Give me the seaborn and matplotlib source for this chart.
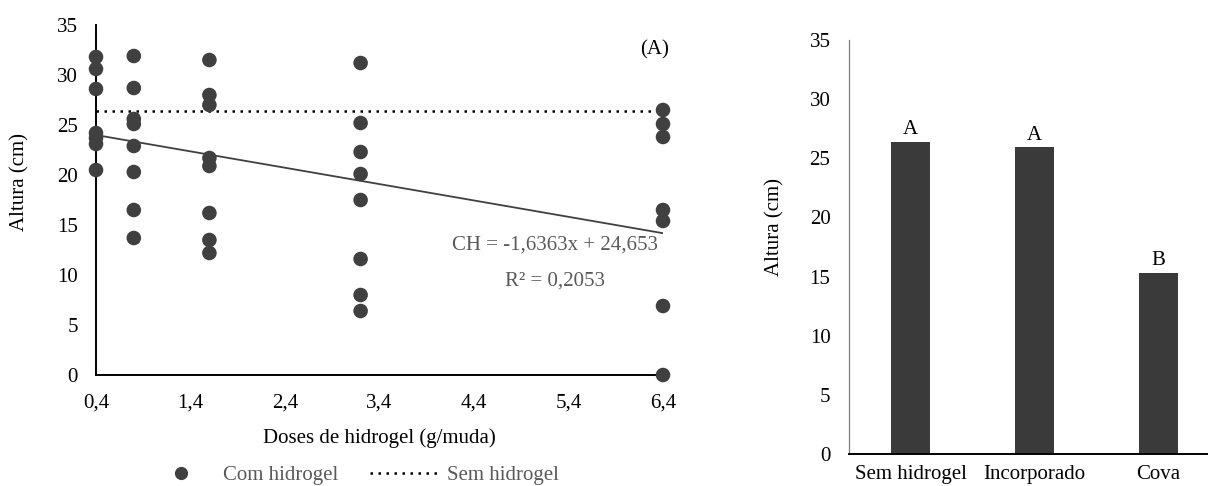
import numpy as np
import pandas as pd
import matplotlib
matplotlib.use("Agg")
import matplotlib.pyplot as plt
import seaborn as sns
from matplotlib.lines import Line2D

# ---------------- data ----------------
dose_levels = [0.4, 0.8, 1.6, 3.2, 6.4]
altura_04 = [31.8, 30.6, 28.6, 24.2, 23.7, 23.1, 20.5]
altura_08 = [31.9, 28.7, 25.6, 25.1, 22.9, 20.3, 16.5, 13.7]
altura_16 = [31.5, 28.0, 27.0, 21.7, 20.9, 16.2, 13.5, 12.2]
altura_32 = [31.2, 25.2, 22.3, 20.1, 17.5, 11.6, 8.0, 6.4]
altura_64 = [26.5, 25.1, 23.8, 16.5, 15.4, 6.9, 0.0]
sem_hidrogel_media = 26.4
reg_slope = -1.6363
reg_intercept = 24.653
reg_r2 = "0,2053"

x_ticks = [0.4, 1.4, 2.4, 3.4, 4.4, 5.4, 6.4]
x_ticklabels = ["0,4", "1,4", "2,4", "3,4", "4,4", "5,4", "6,4"]
y_ticks = [0, 5, 10, 15, 20, 25, 30, 35]

bar_categories = ["Sem hidrogel", "Incorporado", "Cova"]
bar_values = [26.4, 25.9, 15.3]
bar_letters = ["A", "A", "B"]

# ---------------- style ----------------
sns.set_theme(style="white")
plt.rcParams["font.family"] = ["Liberation Serif", "DejaVu Serif"]
FS = 15
GRAY_TXT = "#595959"
PT_COLOR = "#404040"
BAR_COLOR = "#3a3a3a"

W, H = 1208, 486
fig = plt.figure(figsize=(W / 100, H / 100), dpi=100)

# ---------------- left: scatter ----------------
ax1 = fig.add_axes([96 / W, 111 / H, 567 / W, 350 / H])
all_groups = [altura_04, altura_08, altura_16, altura_32, altura_64]
doses = []
alturas = []
for d, vals in zip(dose_levels, all_groups):
    doses += [d] * len(vals)
    alturas += vals
df_sc = pd.DataFrame({"dose": doses, "altura": alturas})

sns.scatterplot(data=df_sc, x="dose", y="altura", ax=ax1, s=110,
                color=PT_COLOR, edgecolor="none", linewidth=0,
                legend=False, zorder=3)
for c in ax1.collections:
    c.set_clip_on(False)

xr = np.array([dose_levels[0], dose_levels[-1]])
sns.lineplot(x=xr, y=reg_intercept + reg_slope * xr, ax=ax1,
             color=PT_COLOR, lw=1.3, zorder=4)
sns.lineplot(x=xr, y=[sem_hidrogel_media, sem_hidrogel_media], ax=ax1,
             color="black", lw=1.8, zorder=2)
ax1.lines[-1].set_linestyle((0, (1, 2.2)))

ax1.set_xlim(0.4, 6.4)
ax1.set_ylim(0, 35)
ax1.set_xticks(x_ticks)
ax1.set_xticklabels(x_ticklabels)
ax1.set_yticks(y_ticks)
ax1.tick_params(axis="both", length=0, labelsize=FS, colors="black")
ax1.tick_params(axis="x", pad=13)
ax1.tick_params(axis="y", pad=13)
for s in ["top", "right"]:
    ax1.spines[s].set_visible(False)
for s in ["left", "bottom"]:
    ax1.spines[s].set_color("black")
    ax1.spines[s].set_linewidth(1.4)
ax1.set_xlabel("Doses de hidrogel (g/muda)", fontsize=FS, color="black")
ax1.xaxis.set_label_coords(0.5, -(428 - 375) / 350)
ax1.xaxis.label.set_va("top")
ax1.set_ylabel("Altura (cm)", fontsize=FS, color="black")
ax1.yaxis.set_label_coords((20 - 96) / 567, (375 - 182) / 350)
ax1.yaxis.label.set_va("center")

ax1.text((555 - 96) / 567, (375 - 245) / 350,
         f"CH = {str(reg_slope).replace('.', ',')}x + {str(reg_intercept).replace('.', ',')}",
         transform=ax1.transAxes, ha="center", va="center", fontsize=FS, color=GRAY_TXT)
ax1.text((555 - 96) / 567, (375 - 281) / 350, f"R² = {reg_r2}",
         transform=ax1.transAxes, ha="center", va="center", fontsize=FS, color=GRAY_TXT)
ax1.text((655 - 96) / 567, (375 - 50) / 350, "(A)", transform=ax1.transAxes,
         ha="center", va="center", fontsize=FS, color="black")

handles = [
    Line2D([], [], marker="o", ls="none", color=PT_COLOR, markersize=9.5,
           markeredgewidth=0),
    Line2D([], [], ls=(0, (1, 2.2)), color="black", lw=1.8),
]
fig.legend(handles, ["Com hidrogel", "Sem hidrogel"], ncol=2, frameon=False,
           loc="center", bbox_to_anchor=(352.5 / W, (H - 475) / H),
           bbox_transform=fig.transFigure, fontsize=FS, labelcolor=GRAY_TXT,
           handlelength=3.26, handletextpad=0.43, columnspacing=1.49,
           numpoints=1, borderpad=0, borderaxespad=0)

# ---------------- right: bars ----------------
ax2 = fig.add_axes([848.5 / W, 31.7 / H, 372 / W, 414.6 / H])
df_bar = pd.DataFrame({"cat": bar_categories, "val": bar_values})
sns.barplot(data=df_bar, x="cat", y="val", ax=ax2, color=BAR_COLOR,
            saturation=1, width=0.315, edgecolor="none", linewidth=0)
ax2.set_xlim(-0.5, 2.5)
ax2.set_ylim(0, 35)
ax2.set_yticks(y_ticks)
ax2.tick_params(axis="both", length=0, labelsize=FS, colors="black")
ax2.tick_params(axis="x", pad=8)
ax2.tick_params(axis="y", pad=13)
for s in ["top", "right"]:
    ax2.spines[s].set_visible(False)
ax2.spines["left"].set_color("#7f7f7f")
ax2.spines["left"].set_linewidth(0.9)
ax2.spines["bottom"].set_color("black")
ax2.spines["bottom"].set_linewidth(1.4)
ax2.set_xlabel("")
ax2.set_ylabel("Altura (cm)", fontsize=FS, color="black")
ax2.yaxis.set_label_coords((775 - 848.5) / 372, (454.3 - 226.7) / 414.6)
ax2.yaxis.label.set_va("center")
for i, (v, lt) in enumerate(zip(bar_values, bar_letters)):
    ax2.annotate(lt, (i, v), xytext=(0, 2), textcoords="offset points",
                 ha="center", va="bottom", fontsize=FS, color="black")

fig.savefig("out.png", dpi=100)
